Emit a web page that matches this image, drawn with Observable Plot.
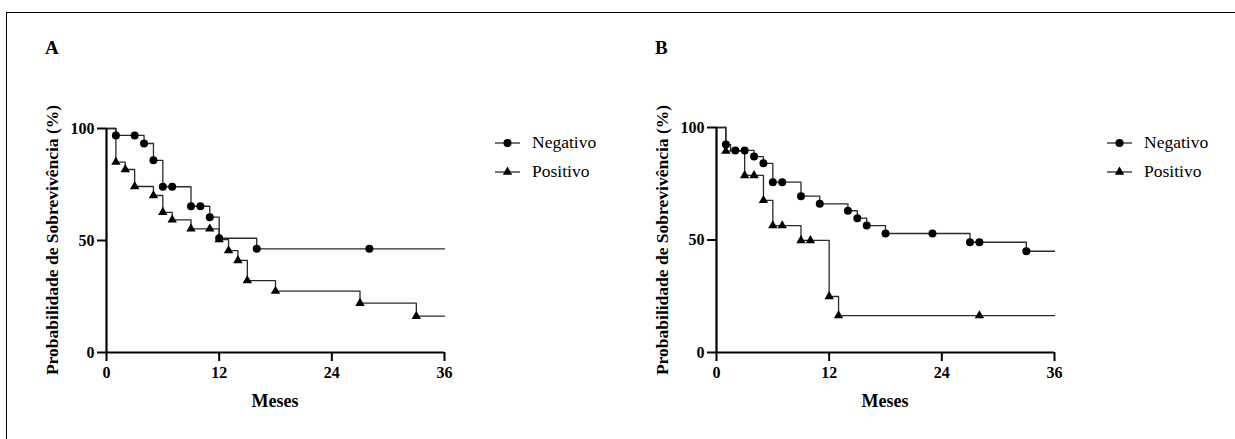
<!DOCTYPE html>
<html>
<head>
<meta charset="utf-8">
<script src="https://cdn.jsdelivr.net/npm/d3@7"></script>
<script src="https://cdn.jsdelivr.net/npm/@observablehq/plot@0.6"></script>
<style>
  html, body { margin: 0; padding: 0; background: #fff; }
  #root { position: relative; width: 1235px; height: 439px; overflow: hidden; font-family: "Liberation Serif", "Times New Roman", serif; color: #000; }
  #root svg text { font-family: "Liberation Serif", "Times New Roman", serif !important; }
  .frame { position: absolute; left: 6px; top: 12px; width: 1300px; height: 500px; border-top: 1.5px solid #000; border-left: 1.5px solid #000; }
  .panel { position: absolute; top: 0; }
  .lab { position: absolute; font-weight: bold; white-space: nowrap; font-family: "Liberation Serif", serif; }
  .ylab { position: absolute; font-weight: bold; white-space: nowrap; font-size: 17.5px; font-family: "Liberation Serif", serif; transform: translate(-50%, -50%) rotate(-90deg); }
  .xlab { position: absolute; font-weight: bold; font-size: 18px; font-family: "Liberation Serif", serif; transform: translateX(-50%); }
  .leg { position: absolute; display: flex; align-items: center; font-size: 17.5px; font-family: "Liberation Serif", serif; }
  .leg svg { margin-right: 12px; }
</style>
</head>
<body>
<div id="root">
  <div class="frame"></div>
</div>
<script>
// ---------- data ----------
const xTicks = [0, 12, 24, 36];
const yTicks = [0, 50, 100];
const xDomain = [0, 36];
const yDomain = [0, 100];
const seriesNames = ["Negativo", "Positivo"];
const panelLabels = ["A", "B"];
const xLabel = "Meses";
const yLabel = "Probabilidade de Sobrevivência (%)";

// Panel A – Negativo: step curve (time, survival %)
const aNegT = [0, 1, 4, 5, 6, 9, 11, 12, 16, 36];
const aNegS = [100, 96.9, 93.3, 85.8, 74.0, 65.3, 60.4, 51.0, 46.3, 46.3];
// Panel A – Negativo: symbols
const aNegMT = [1, 3, 4, 5, 6, 7, 9, 10, 11, 12, 16, 28];
const aNegMS = [96.9, 96.9, 93.3, 85.8, 74.0, 74.0, 65.3, 65.3, 60.4, 51.0, 46.3, 46.3];

// Panel A – Positivo
const aPosT = [0, 1, 2, 3, 5, 6, 7, 9, 12, 13, 14, 15, 18, 27, 33, 36];
const aPosS = [100, 85.0, 81.7, 74.1, 70.1, 62.6, 59.2, 55.2, 50.4, 45.5, 41.1, 32.1, 27.4, 22.0, 16.2, 16.2];
const aPosMT = [1, 2, 3, 5, 6, 7, 9, 11, 12, 13, 14, 15, 18, 27, 33];
const aPosMS = [85.0, 81.7, 74.1, 70.1, 62.6, 59.2, 55.2, 55.2, 50.4, 45.5, 41.1, 32.1, 27.4, 22.0, 16.2];

// Panel B – Negativo
const bNegT = [0, 1, 1.5, 4, 5, 6, 9, 11, 14, 15, 16, 18, 27, 33, 36];
const bNegS = [100, 92.4, 89.8, 87.1, 84.1, 75.7, 69.5, 66.1, 63.0, 59.7, 56.4, 52.9, 49.0, 45.0, 45.0];
const bNegMT = [1, 2, 3, 4, 5, 6, 7, 9, 11, 14, 15, 16, 18, 23, 27, 28, 33];
const bNegMS = [92.4, 89.8, 89.8, 87.1, 84.1, 75.7, 75.7, 69.5, 66.1, 63.0, 59.7, 56.4, 52.9, 52.9, 49.0, 49.0, 45.0];

// Panel B – Positivo
const bPosT = [0, 1, 3, 5, 6, 9, 12, 13, 36];
const bPosS = [100, 89.5, 78.7, 67.6, 56.4, 49.8, 24.9, 16.4, 16.4];
const bPosMT = [1, 3, 4, 5, 6, 7, 9, 10, 12, 13, 28];
const bPosMS = [89.5, 78.7, 78.7, 67.6, 56.4, 56.4, 49.8, 49.8, 24.9, 16.4, 16.4];

// ---------- build ----------
const zip = (t, s) => t.map((v, i) => ({t: v, s: s[i]}));
const FONT = '"Liberation Serif", "Times New Roman", serif';
const root = document.getElementById("root");
const TRI_R = 3.5;

function panel(cfg) {
  const plot = Plot.plot({
    width: 600,
    height: 439,
    marginLeft: 106,
    marginRight: 156,
    marginTop: cfg.top,
    marginBottom: 87,
    style: {fontFamily: FONT, background: "transparent", overflow: "visible"},
    x: {domain: xDomain},
    y: {domain: yDomain},
    marks: [
      Plot.axisX({ticks: xTicks, tickSize: 9, tickPadding: 5, strokeWidth: 2, fontSize: 16, fontWeight: "bold", fill: "#000", label: null, tickFormat: d => String(d)}),
      Plot.axisY({ticks: yTicks, tickSize: 9, tickPadding: 3, strokeWidth: 2, fontSize: 16, fontWeight: "bold", fill: "#000", label: null, tickFormat: d => String(d)}),
      Plot.line(zip(cfg.negT, cfg.negS), {x: "t", y: "s", curve: "step-after", stroke: "#2a2a2a", strokeWidth: 1.3}),
      Plot.line(zip(cfg.posT, cfg.posS), {x: "t", y: "s", curve: "step-after", stroke: "#2a2a2a", strokeWidth: 1.3}),
      Plot.dot(zip(cfg.negMT, cfg.negMS), {x: "t", y: "s", symbol: "circle", r: 4, fill: "#000"}),
      Plot.dot(zip(cfg.posMT, cfg.posMS), {x: "t", y: "s", symbol: "triangle", r: TRI_R, fill: "#000"}),
      Plot.ruleX([xDomain[0]], {y1: yDomain[0], y2: yDomain[1], stroke: "#000", strokeWidth: 2.2}),
      Plot.ruleY([yDomain[0]], {x1: xDomain[0], x2: xDomain[1], stroke: "#000", strokeWidth: 2.2})
    ]
  });
  plot.classList.add("panel");
  plot.style.left = cfg.left + "px";
  root.appendChild(plot);

  const letter = document.createElement("div");
  letter.className = "lab";
  letter.style.fontSize = "19px";
  letter.style.left = cfg.letterX + "px";
  letter.style.top = "37px";
  letter.textContent = cfg.letter;
  root.appendChild(letter);

  const yl = document.createElement("div");
  yl.className = "ylab";
  yl.style.left = cfg.ylabX + "px";
  yl.style.top = "240px";
  yl.textContent = yLabel;
  root.appendChild(yl);

  const xl = document.createElement("div");
  xl.className = "xlab";
  xl.style.left = (cfg.left + 106 + 169) + "px";
  xl.style.top = "391px";
  xl.textContent = xLabel;
  root.appendChild(xl);

  const ns = "http://www.w3.org/2000/svg";
  seriesNames.forEach((name, i) => {
    const row = document.createElement("div");
    row.className = "leg";
    row.style.left = cfg.legX + "px";
    row.style.top = (i === 0 ? 132 : 161) + "px";
    const s = document.createElementNS(ns, "svg");
    s.setAttribute("width", 25); s.setAttribute("height", 20);
    const ln = document.createElementNS(ns, "line");
    ln.setAttribute("x1", 0); ln.setAttribute("x2", 25); ln.setAttribute("y1", 10); ln.setAttribute("y2", 10);
    ln.setAttribute("stroke", "#2a2a2a"); ln.setAttribute("stroke-width", 1.3);
    s.appendChild(ln);
    const sym = document.createElementNS(ns, "path");
    sym.setAttribute("transform", "translate(12.5,10)");
    sym.setAttribute("d", d3.symbol(i === 0 ? d3.symbolCircle : d3.symbolTriangle, i === 0 ? Math.PI * 16 : TRI_R * TRI_R * Math.PI)());
    sym.setAttribute("fill", "#000");
    s.appendChild(sym);
    row.appendChild(s);
    const tx = document.createElement("span");
    tx.textContent = name;
    row.appendChild(tx);
    root.appendChild(row);
  });
}

panel({letter: panelLabels[0], left: 0, top: 128, letterX: 45, ylabX: 52, legX: 495,
  negT: aNegT, negS: aNegS, negMT: aNegMT, negMS: aNegMS,
  posT: aPosT, posS: aPosS, posMT: aPosMT, posMS: aPosMS});
panel({letter: panelLabels[1], left: 610, top: 127, letterX: 655, ylabX: 662, legX: 1107,
  negT: bNegT, negS: bNegS, negMT: bNegMT, negMS: bNegMS,
  posT: bPosT, posS: bPosS, posMT: bPosMT, posMS: bPosMS});
</script>
</body>
</html>
